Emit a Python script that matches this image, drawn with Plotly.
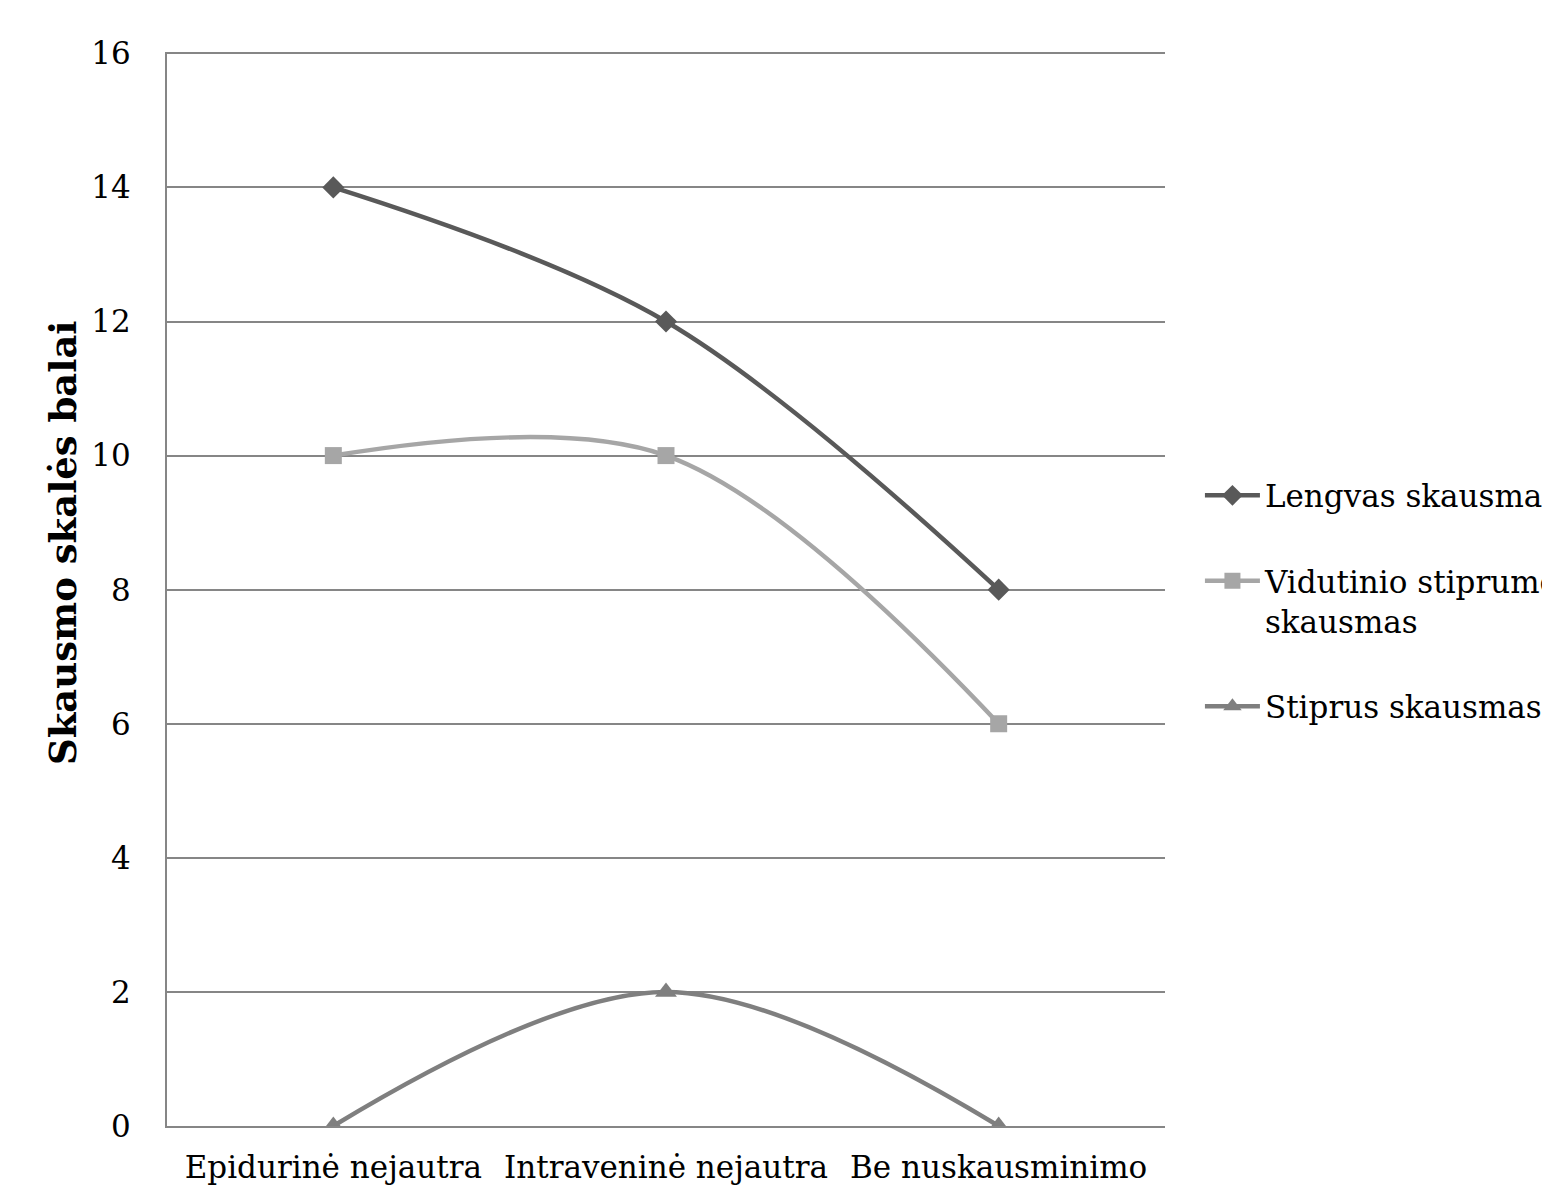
import plotly.graph_objects as go

categories = ["Epidurinė nejautra", "Intraveninė nejautra", "Be nuskausminimo"]
series_names = ["Lengvas skausmas", "Vidutinio stiprumo<br>skausmas", "Stiprus skausmas"]
lengvas = [14, 12, 8]
vidutinio = [10, 10, 6]
stiprus = [0, 2, 0]
y_ticks = [0, 2, 4, 6, 8, 10, 12, 14, 16]
y_title = "Skausmo skalės balai"

colors = ["#595959", "#a6a6a6", "#7f7f7f"]
symbols = ["diamond", "square", "triangle-up"]
sizes = [17, 17, 19]

fig = go.Figure()
for i, (name, vals) in enumerate(zip(series_names, [lengvas, vidutinio, stiprus])):
    fig.add_trace(go.Scatter(
        x=categories, y=vals, name=name, mode="lines+markers",
        line=dict(color=colors[i], width=4.5, shape="spline", smoothing=1),
        marker=dict(symbol=symbols[i], size=sizes[i], color=colors[i]),
        legendgroup=f"g{i}",
    ))

font_serif = "DejaVu Serif"
fs = 31
fig.update_layout(
    width=1600, height=1195,
    margin=dict(l=159, r=443, t=44, b=77),
    paper_bgcolor="white", plot_bgcolor="white",
    font=dict(family=font_serif, size=fs, color="black"),
    showlegend=True,
    legend=dict(x=1.035, y=0.612, xanchor="left", yanchor="top",
                font=dict(family=font_serif, size=fs, color="black"),
                tracegroupgap=42, valign="top", itemwidth=55,
                bgcolor="rgba(0,0,0,0)"),
    xaxis=dict(type="category", range=[-0.5, 2.5], showgrid=False,
               showline=True, linecolor="#868686", linewidth=2,
               ticks="", ticklabelstandoff=13,
               tickfont=dict(family=font_serif, size=fs)),
    yaxis=dict(range=[0, 16.02], tickvals=y_ticks, showgrid=True,
               gridcolor="#868686", gridwidth=2,
               showline=True, linecolor="#868686", linewidth=2,
               ticks="", ticklabelstandoff=28, zeroline=False,
               tickfont=dict(family=font_serif, size=fs)),
    annotations=[dict(text=f"<b>{y_title}</b>", textangle=-90,
                      xref="paper", yref="paper", x=-0.1042, y=0.5428,
                      xanchor="center", yanchor="middle", showarrow=False,
                      font=dict(family=font_serif, size=37, color="black"))],
)
fig.write_html("out.html")
